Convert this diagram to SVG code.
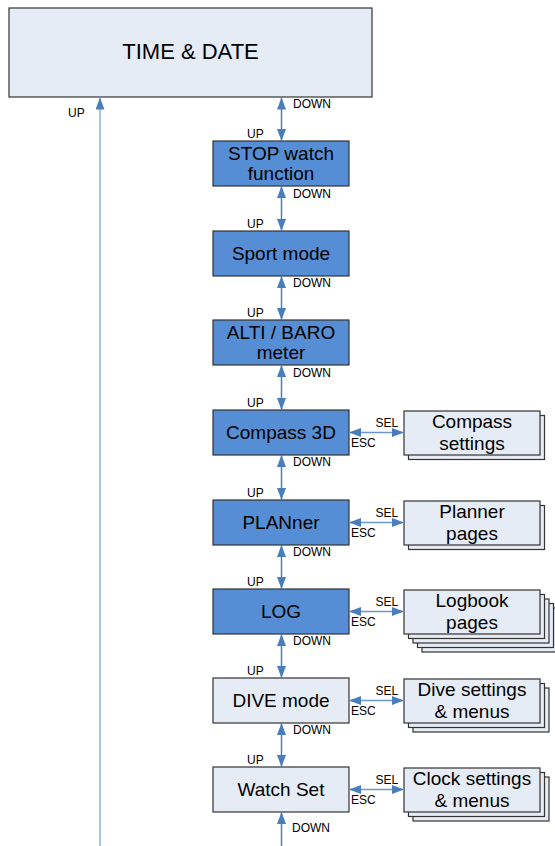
<svg xmlns="http://www.w3.org/2000/svg" width="555" height="846" viewBox="0 0 555 846">
<style>
.bx{stroke:#333;stroke-width:1.2}
.dk{fill:#558ed5}
.lt{fill:#e6ecf6}
.t{font-family:"Liberation Sans",Arial,sans-serif;font-size:19px;fill:#000;text-anchor:middle}
.tt{font-family:"Liberation Sans",Arial,sans-serif;font-size:22px;fill:#000;text-anchor:middle}
.l{font-family:"Liberation Sans",Arial,sans-serif;font-size:12px;fill:#000}
.c{stroke:#4a7ebb;stroke-width:1.5;fill:none}
.ch{stroke:#6d97cc;stroke-width:1.5;fill:none}
</style>
<defs>
<marker id="ah" markerUnits="userSpaceOnUse" markerWidth="12" markerHeight="9" refX="12" refY="4.5" orient="auto-start-reverse">
<path d="M0,0 L12,4.5 L0,9 z" fill="#4a7ebb"/>
</marker>
</defs>
<g id="time-date">
<rect class="bx lt" x="9" y="8" width="363" height="89"/>
<text class="tt" x="190.5" y="59">TIME &amp; DATE</text>
</g>
<g id="stop">
<rect class="bx dk" x="213" y="141" width="136" height="45"/>
<text class="t" x="281" y="159.5">STOP watch</text>
<text class="t" x="281" y="180">function</text>
</g>
<g id="sport">
<rect class="bx dk" x="213" y="231" width="136" height="45"/>
<text class="t" x="281" y="260">Sport mode</text>
</g>
<g id="alti">
<rect class="bx dk" x="213" y="320" width="136" height="45"/>
<text class="t" x="281" y="338.5">ALTI / BARO</text>
<text class="t" x="281" y="359">meter</text>
</g>
<g id="compass">
<rect class="bx dk" x="213" y="410" width="136" height="45"/>
<text class="t" x="281" y="439">Compass 3D</text>
</g>
<g id="planner">
<rect class="bx dk" x="213" y="500" width="136" height="45"/>
<text class="t" x="281" y="529">PLANner</text>
</g>
<g id="log">
<rect class="bx dk" x="213" y="589" width="136" height="45"/>
<text class="t" x="281" y="618">LOG</text>
</g>
<g id="dive">
<rect class="bx lt" x="213" y="678" width="136" height="45"/>
<text class="t" x="281" y="707">DIVE mode</text>
</g>
<g id="watchset">
<rect class="bx lt" x="213" y="767" width="136" height="45"/>
<text class="t" x="281" y="796">Watch Set</text>
</g>
<g id="compass-settings">
<rect class="bx lt" x="408.5" y="415.5" width="136" height="44"/>
<rect class="bx lt" x="404" y="411" width="136" height="44"/>
<text class="t" x="472" y="427.5">Compass</text>
<text class="t" x="472" y="449.5">settings</text>
</g>
<g id="planner-pages">
<rect class="bx lt" x="408.5" y="505.5" width="136" height="44"/>
<rect class="bx lt" x="404" y="501" width="136" height="44"/>
<text class="t" x="472" y="517.5">Planner</text>
<text class="t" x="472" y="539.5">pages</text>
</g>
<g id="logbook-pages">
<rect class="bx lt" x="422" y="608" width="136" height="44"/>
<rect class="bx lt" x="417.5" y="603.5" width="136" height="44"/>
<rect class="bx lt" x="413" y="599" width="136" height="44"/>
<rect class="bx lt" x="408.5" y="594.5" width="136" height="44"/>
<rect class="bx lt" x="404" y="590" width="136" height="44"/>
<text class="t" x="472" y="606.5">Logbook</text>
<text class="t" x="472" y="628.5">pages</text>
</g>
<g id="dive-settings">
<rect class="bx lt" x="413" y="688" width="136" height="44"/>
<rect class="bx lt" x="408.5" y="683.5" width="136" height="44"/>
<rect class="bx lt" x="404" y="679" width="136" height="44"/>
<text class="t" x="472" y="695.5">Dive settings</text>
<text class="t" x="472" y="717.5">&amp; menus</text>
</g>
<g id="clock-settings">
<rect class="bx lt" x="413" y="777" width="136" height="44"/>
<rect class="bx lt" x="408.5" y="772.5" width="136" height="44"/>
<rect class="bx lt" x="404" y="768" width="136" height="44"/>
<text class="t" x="472" y="784.5">Clock settings</text>
<text class="t" x="472" y="806.5">&amp; menus</text>
</g>
<g id="connectors">
<line x1="100" y1="846" x2="100" y2="97.5" stroke="#8db3e2" stroke-width="1.5" marker-end="url(#ah)"/>
<line class="c" x1="281.5" y1="97.5" x2="281.5" y2="141" marker-start="url(#ah)" marker-end="url(#ah)"/>
<line class="c" x1="281.5" y1="186" x2="281.5" y2="231" marker-start="url(#ah)" marker-end="url(#ah)"/>
<line class="c" x1="281.5" y1="276" x2="281.5" y2="320" marker-start="url(#ah)" marker-end="url(#ah)"/>
<line class="c" x1="281.5" y1="365" x2="281.5" y2="410" marker-start="url(#ah)" marker-end="url(#ah)"/>
<line class="c" x1="281.5" y1="455" x2="281.5" y2="500" marker-start="url(#ah)" marker-end="url(#ah)"/>
<line class="c" x1="281.5" y1="545" x2="281.5" y2="589" marker-start="url(#ah)" marker-end="url(#ah)"/>
<line class="c" x1="281.5" y1="634" x2="281.5" y2="678" marker-start="url(#ah)" marker-end="url(#ah)"/>
<line class="c" x1="281.5" y1="723" x2="281.5" y2="767" marker-start="url(#ah)" marker-end="url(#ah)"/>
<line class="c" x1="281.5" y1="846" x2="281.5" y2="812" marker-end="url(#ah)"/>
<line class="ch" x1="349" y1="432.5" x2="404" y2="432.5" marker-start="url(#ah)" marker-end="url(#ah)"/>
<line class="ch" x1="349" y1="522.5" x2="404" y2="522.5" marker-start="url(#ah)" marker-end="url(#ah)"/>
<line class="ch" x1="349" y1="611.5" x2="404" y2="611.5" marker-start="url(#ah)" marker-end="url(#ah)"/>
<line class="ch" x1="349" y1="700.5" x2="404" y2="700.5" marker-start="url(#ah)" marker-end="url(#ah)"/>
<line class="ch" x1="349" y1="789.5" x2="404" y2="789.5" marker-start="url(#ah)" marker-end="url(#ah)"/>
<text class="l" x="68" y="117">UP</text>
<text class="l" x="293" y="108">DOWN</text>
<text class="l" x="247" y="138">UP</text>
<text class="l" x="293" y="198">DOWN</text>
<text class="l" x="247" y="228">UP</text>
<text class="l" x="293" y="287">DOWN</text>
<text class="l" x="247" y="317">UP</text>
<text class="l" x="293" y="377">DOWN</text>
<text class="l" x="247" y="407">UP</text>
<text class="l" x="293" y="466">DOWN</text>
<text class="l" x="247" y="497">UP</text>
<text class="l" x="293" y="556">DOWN</text>
<text class="l" x="247" y="586">UP</text>
<text class="l" x="293" y="645">DOWN</text>
<text class="l" x="247" y="675">UP</text>
<text class="l" x="293" y="734">DOWN</text>
<text class="l" x="247" y="764">UP</text>
<text class="l" x="292" y="832">DOWN</text>
<text class="l" x="375.5" y="427">SEL</text>
<text class="l" x="351" y="447">ESC</text>
<text class="l" x="375.5" y="517">SEL</text>
<text class="l" x="351" y="537">ESC</text>
<text class="l" x="375.5" y="606">SEL</text>
<text class="l" x="351" y="626">ESC</text>
<text class="l" x="375.5" y="695">SEL</text>
<text class="l" x="351" y="715">ESC</text>
<text class="l" x="375.5" y="784">SEL</text>
<text class="l" x="351" y="804">ESC</text>
</g>
</svg>
